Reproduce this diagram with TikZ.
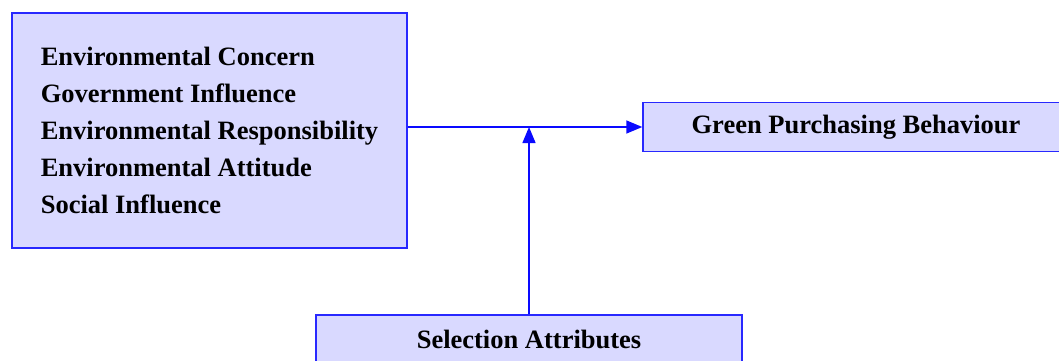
\documentclass[tikz,border=0pt]{standalone}
\usepackage{fontspec}
\setmainfont{Liberation Serif}
\usetikzlibrary{arrows.meta}
\definecolor{boxfill}{RGB}{217,217,255}
\definecolor{boxline}{RGB}{40,40,255}
\definecolor{flowline}{RGB}{10,10,255}
\tikzset{
  factorbox/.style={draw=boxline, fill=boxfill, line width=1.4pt, inner sep=0pt,
    font=\fontsize{26.5}{37}\selectfont\bfseries},
  flow/.style={draw=flowline, line width=1.4pt, -{Triangle[length=16pt,width=13pt]}}
}
\begin{document}
\begin{tikzpicture}[x=1pt,y=-1pt]
\useasboundingbox (0,0) rectangle (1059,361);
\node[factorbox, minimum width=395pt, minimum height=235pt, align=left] (factors) at (209.5,130.5)
  {Environmental Concern\\Government Influence\\Environmental Responsibility\\Environmental Attitude\\Social Influence};
\node[factorbox, minimum width=426pt, minimum height=49pt] (gpb) at (856,127) {Green Purchasing Behaviour};
\node[factorbox, minimum width=426pt, minimum height=49pt] (sel) at (529,339.5) {Selection Attributes};
\draw[flow] (factors.east |- gpb.west) -- (gpb.west);
\draw[flow] (sel.north) -- (sel.north |- gpb.west);
\end{tikzpicture}
\end{document}
